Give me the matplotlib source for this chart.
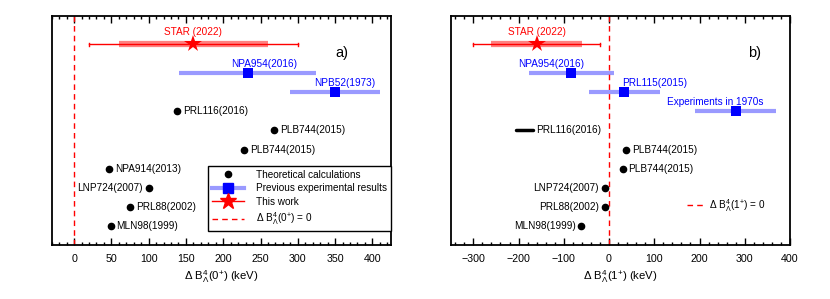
import numpy as np
import matplotlib
matplotlib.use("Agg")
import matplotlib.pyplot as plt
from matplotlib.lines import Line2D
from matplotlib.ticker import MultipleLocator

plt.rcParams["font.family"] = ["Liberation Sans", "DejaVu Sans"]
plt.rcParams["mathtext.fontset"] = "custom"
plt.rcParams["mathtext.rm"] = "Liberation Sans"
plt.rcParams["mathtext.it"] = "Liberation Sans:italic"

# panel a) : 0+ state
star0 = 160
star0_stat = 140
star0_syst = 100
exp0_names = ["NPA954(2016)", "NPB52(1973)"]
exp0_val = [233, 350]
exp0_err = [92, 60]
exp0_row = [9, 8]
th0_names = ["PRL116(2016)", "PLB744(2015)", "PLB744(2015)", "NPA914(2013)",
             "LNP724(2007)", "PRL88(2002)", "MLN98(1999)"]
th0_val = [138, 268, 228, 47, 100, 75, 49]
th0_row = [7, 6, 5, 4, 3, 2, 1]
th0_left = [False, False, False, False, True, False, False]

# panel b) : 1+ state
star1 = -160
star1_stat = 140
star1_syst = 100
exp1_names = ["NPA954(2016)", "PRL115(2015)", "Experiments in 1970s"]
exp1_val = [-83, 34, 280]
exp1_err = [94, 79, 90]
exp1_row = [9, 8, 7]
th1_names = ["PLB744(2015)", "PLB744(2015)", "LNP724(2007)", "PRL88(2002)", "MLN98(1999)"]
th1_val = [38, 30, -10, -10, -61]
th1_row = [5, 4, 3, 2, 1]
th1_left = [False, False, True, True, True]
prl116_lo, prl116_hi = -205, -167
prl116_row = 6
star_row = 10.5

band_blue = "#9a9aff"
band_red = "#ff8080"
fs = 7.2

fig = plt.figure(figsize=(8.3, 2.99), dpi=100)
ax1 = fig.add_axes([0.0623, 0.1796, 0.4088, 0.768])
ax2 = fig.add_axes([0.543, 0.1796, 0.4088, 0.768])


def draw_star(ax, c, stat, syst):
    ax.plot([c - stat, c + stat], [star_row, star_row], color="red", lw=1,
            zorder=3)
    ax.plot([c - stat, c - stat], [star_row - 0.08, star_row + 0.08], color="red", lw=1)
    ax.plot([c + stat, c + stat], [star_row - 0.08, star_row + 0.08], color="red", lw=1)
    ax.plot([c - syst, c + syst], [star_row, star_row], color=band_red, lw=4.5,
            solid_capstyle="butt", zorder=2)
    ax.plot([c], [star_row], marker="*", color="red", ms=13, zorder=4, mew=0)
    ax.text(c, star_row + 0.63, "STAR (2022)", color="red", fontsize=fs,
            ha="center", va="center")


def draw_exp(ax, names, vals, errs, rows, dx):
    for n, v, e, r, d in zip(names, vals, errs, rows, dx):
        ax.plot([v - e, v + e], [r, r], color=band_blue, lw=3,
                solid_capstyle="butt", zorder=2)
        ax.plot([v], [r], marker="s", color="blue", ms=6.5, zorder=3, mew=0)
        ax.text(v + d, r + 0.47, n, color="blue", fontsize=fs, ha="center",
                va="center")


def draw_th(ax, names, vals, rows, left, off):
    for n, v, r, l in zip(names, vals, rows, left):
        ax.plot([v], [r], "o", color="black", ms=4.5, zorder=3)
        if l:
            ax.text(v - off, r, n, fontsize=fs, ha="right", va="center")
        else:
            ax.text(v + off, r, n, fontsize=fs, ha="left", va="center")


# ---- panel a
draw_star(ax1, star0, star0_stat, star0_syst)
draw_exp(ax1, exp0_names, exp0_val, exp0_err, exp0_row, [22, 13])
draw_th(ax1, th0_names, th0_val, th0_row, th0_left, 8)
ax1.axvline(0, color="red", ls=(0, (4, 3)), lw=1)
ax1.set_xlim(-30, 425)
ax1.xaxis.set_major_locator(MultipleLocator(50))
ax1.xaxis.set_minor_locator(MultipleLocator(10))
ax1.set_xlabel(r"$\Delta$ B$^{4}_{\Lambda}$(0$^{+}$) (keV)", fontsize=8.2,
               labelpad=3.5)
ax1.text(0.855, 0.82, "a)", transform=ax1.transAxes, fontsize=10.5, ha="center")

handles = [
    Line2D([], [], ls="none", marker="o", color="black", ms=4.5),
    Line2D([], [], color=band_blue, lw=3, marker="s", mfc="blue", mec="blue", ms=6.5),
    Line2D([], [], color="red", lw=1, marker="*", mfc="red", mec="red", ms=12),
    Line2D([], [], color="red", lw=1, ls=(0, (4, 3))),
]
labels = ["Theoretical calculations", "Previous experimental results",
          "This work", r"$\Delta$ B$^{4}_{\Lambda}$(0$^{+}$) = 0"]
leg = ax1.legend(handles, labels, loc="lower right", bbox_to_anchor=(1.0, 0.062),
                 fontsize=fs, frameon=True, fancybox=False, edgecolor="black",
                 framealpha=1, borderaxespad=0, handlelength=3.2,
                 labelspacing=0.35, borderpad=0.4, handletextpad=1.2)
leg.get_frame().set_linewidth(1)

# ---- panel b
draw_star(ax2, star1, star1_stat, star1_syst)
draw_exp(ax2, exp1_names, exp1_val, exp1_err, exp1_row, [-46, 67, -46])
draw_th(ax2, th1_names, th1_val, th1_row, th1_left, 13)
ax2.plot([prl116_lo, prl116_hi], [prl116_row, prl116_row], color="black", lw=2.5,
         solid_capstyle="round")
ax2.text(prl116_hi + 5, prl116_row, "PRL116(2016)", fontsize=fs, ha="left",
         va="center")
ax2.axvline(0, color="red", ls=(0, (4, 3)), lw=1)
ax2.set_xlim(-350, 400)
ax2.xaxis.set_major_locator(MultipleLocator(100))
ax2.xaxis.set_minor_locator(MultipleLocator(20))
ax2.set_xlabel(r"$\Delta$ B$^{4}_{\Lambda}$(1$^{+}$) (keV)", fontsize=8.2,
               labelpad=3.5)
ax2.text(0.895, 0.82, "b)", transform=ax2.transAxes, fontsize=10.5, ha="center")
leg2 = ax2.legend([Line2D([], [], color="red", lw=1, ls=(0, (4, 3)))],
                  [r"$\Delta$ B$^{4}_{\Lambda}$(1$^{+}$) = 0"],
                  loc="center left", bbox_to_anchor=(0.67, 0.175), frameon=False,
                  fontsize=fs, handlelength=1.6, handletextpad=0.6)

for ax in (ax1, ax2):
    ax.set_ylim(0, 12)
    ax.set_yticks([])
    ax.tick_params(axis="x", which="both", direction="in", top=True,
                   labelsize=fs + 0.5, pad=6)
    ax.tick_params(axis="x", which="major", length=5, width=1)
    ax.tick_params(axis="x", which="minor", length=2.5, width=1)
    for s in ax.spines.values():
        s.set_linewidth(1.3)

fig.savefig("out.png", dpi=100)
